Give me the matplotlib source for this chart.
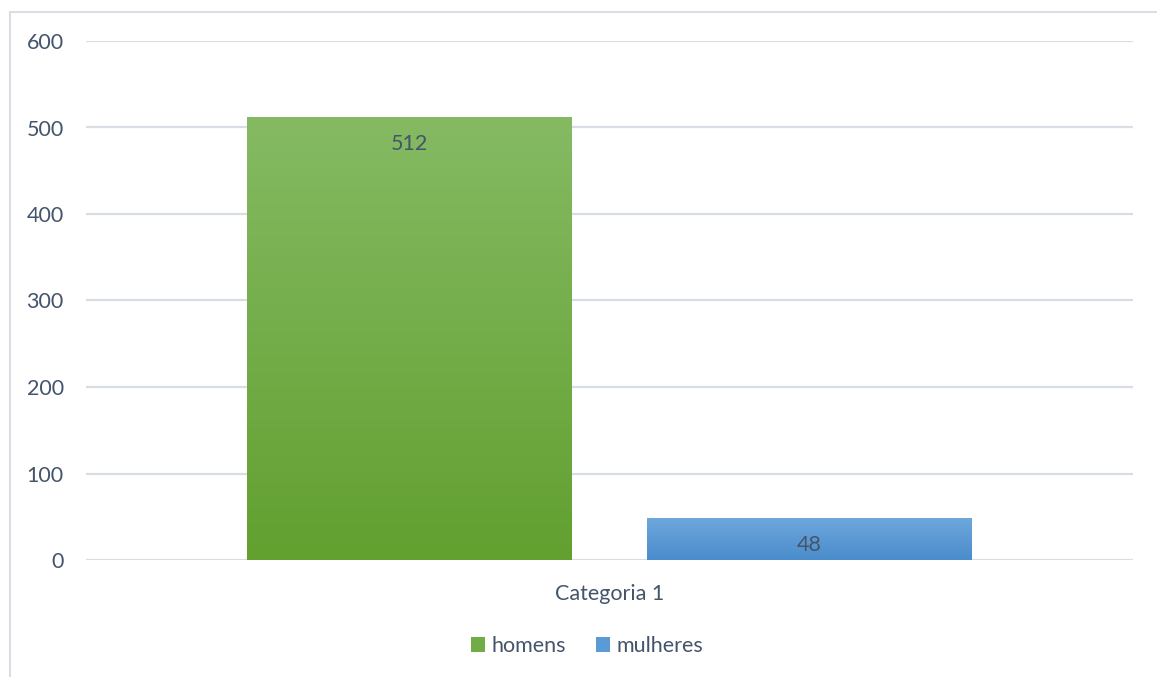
import numpy as np
import matplotlib
matplotlib.use("Agg")
import matplotlib.pyplot as plt
from matplotlib.patches import Rectangle

series = ["homens", "mulheres"]
values = [512, 48]
category = "Categoria 1"
yticks = [0, 100, 200, 300, 400, 500, 600]

# top / bottom colours of each bar's vertical gradient
grad_top = ["#85BA63", "#6EA7DD"]
grad_bot = ["#62A030", "#4A8CCC"]
legend_colors = ["#70AD47", "#5B9BD5"]
text_color = "#44546A"
grid_color = "#D9DEE4"
fs = 15.5

plt.rcParams["font.family"] = ["Lato", "DejaVu Sans"]

W, H = 1157, 677
fig = plt.figure(figsize=(W / 100, H / 100), dpi=100)

# chart area frame (runs off the right and bottom edges)
fig.patches.append(Rectangle((9.5 / W, -0.05), 1.2, 1 - 11.5 / H + 0.05,
                             transform=fig.transFigure, fill=False,
                             edgecolor=grid_color, linewidth=1.5))

ax = fig.add_axes([86 / W, 1 - 560 / H, (1133 - 86) / W, (560 - 41) / H])
ax.set_xlim(-0.5, 0.5)
ax.set_ylim(0, 600)
for s in ax.spines.values():
    s.set_visible(False)
ax.set_yticks(yticks)
ax.tick_params(axis="y", length=0, pad=16, labelsize=fs, labelcolor=text_color)
ax.set_xticks([0])
ax.set_xticklabels([category])
ax.tick_params(axis="x", length=0, pad=17, labelsize=fs, labelcolor=text_color)
ax.yaxis.grid(True, color=grid_color, linewidth=1.6)
ax.set_axisbelow(True)

width = 0.31
offsets = [-0.1915, 0.191]
grad = np.linspace(1, 0, 256).reshape(-1, 1)
for i, (name, v) in enumerate(zip(series, values)):
    x0 = offsets[i] - width / 2
    bar = ax.bar(offsets[i], v, width=width, color="none", edgecolor="none",
                 label=name)[0]
    cmap = matplotlib.colors.LinearSegmentedColormap.from_list(
        name, [grad_bot[i], grad_top[i]])
    im = ax.imshow(grad, cmap=cmap, aspect="auto",
                   extent=(x0, x0 + width, 0, v), zorder=2)
    im.set_clip_path(bar)
    ax.text(offsets[i], v - 19, str(v), ha="center", va="top",
            fontsize=fs, color=text_color, zorder=3)

ax.set_xlim(-0.5, 0.5)
ax.set_ylim(0, 600)

handles = [Rectangle((0, 0), 1, 1, facecolor=c) for c in legend_colors]
fig.legend(handles, series, loc="center", bbox_to_anchor=(587 / W, 1 - 646 / H),
           ncol=2, frameon=False, fontsize=fs, labelcolor=text_color,
           handlelength=0.65, handleheight=0.65, handletextpad=0.3,
           columnspacing=1.4)

fig.savefig("out.png", dpi=100, facecolor="white")
